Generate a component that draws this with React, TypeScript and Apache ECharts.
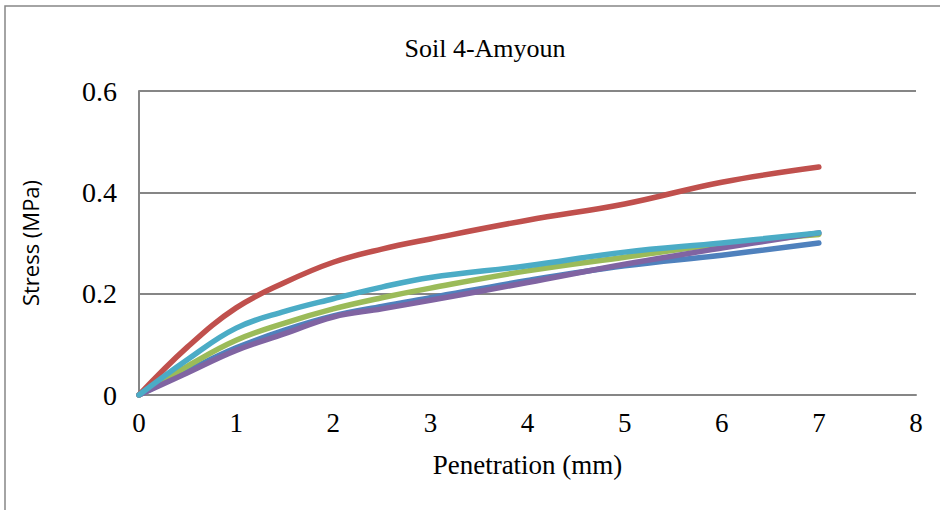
import React, { useEffect, useRef } from "react";
import * as echarts from "echarts";

const penetration = [0, 0.5, 1, 1.5, 2, 2.5, 3, 4, 5, 6, 7];
const seriesNames = ["Sample 1", "Sample 2", "Sample 3", "Sample 4", "Sample 5"];
const blueVals = [0, 0.048, 0.093, 0.128, 0.156, 0.175, 0.192, 0.226, 0.255, 0.276, 0.3];
const redVals = [0, 0.095, 0.172, 0.222, 0.262, 0.288, 0.308, 0.345, 0.377, 0.42, 0.45];
const greenVals = [0, 0.057, 0.108, 0.142, 0.17, 0.192, 0.211, 0.245, 0.272, 0.298, 0.317];
const purpleVals = [0, 0.044, 0.088, 0.121, 0.154, 0.17, 0.187, 0.222, 0.258, 0.29, 0.32];
const cyanVals = [0, 0.07, 0.132, 0.165, 0.19, 0.213, 0.232, 0.255, 0.282, 0.3, 0.32];
const colors = ["#4F81BD", "#C0504D", "#9BBB59", "#8064A2", "#4BACC6"];
const yTicks = [0, 0.2, 0.4, 0.6];
const xTicks = [0, 1, 2, 3, 4, 5, 6, 7, 8];

export default function App() {
  const ref = useRef<HTMLDivElement>(null);
  useEffect(() => {
    if (!ref.current) return;
    const chart = echarts.init(ref.current, undefined, { renderer: "svg" });
    const all = [blueVals, redVals, greenVals, purpleVals, cyanVals];
    const serif = "'Liberation Serif', 'Times New Roman', serif";
    chart.setOption({
      animation: false,
      backgroundColor: "#ffffff",
      title: {
        text: "Soil 4-Amyoun",
        left: 480,
        top: 30,
        textAlign: "center",
        textStyle: { fontFamily: serif, fontSize: 26, fontWeight: "normal", color: "#000" },
      },
      graphic: [
        {
          type: "rect",
          shape: { x: 5, y: 6, width: 1200, height: 1200 },
          style: { fill: "none", stroke: "#868686", lineWidth: 1.5 },
          silent: true,
        },
      ],
      grid: { left: 139, right: 24, top: 91, bottom: 115 },
      xAxis: {
        type: "value",
        min: xTicks[0],
        max: xTicks[xTicks.length - 1],
        interval: 1,
        name: "Penetration (mm)",
        nameLocation: "middle",
        nameGap: 56,
        nameTextStyle: { fontFamily: serif, fontSize: 27, color: "#000" },
        axisLine: { show: true, lineStyle: { color: "#868686", width: 2 } },
        axisTick: { show: false },
        splitLine: { show: false },
        axisLabel: { fontFamily: serif, fontSize: 27, color: "#000", margin: 14 },
      },
      yAxis: {
        type: "value",
        min: yTicks[0],
        max: yTicks[yTicks.length - 1],
        interval: 0.2,
        name: "Stress (MPa)",
        nameLocation: "middle",
        nameGap: 98,
        nameTextStyle: { fontFamily: "'Open Sans', 'Noto Sans', sans-serif", fontSize: 22, color: "#000" },
        axisLine: { show: true, lineStyle: { color: "#868686", width: 2 } },
        axisTick: { show: false },
        splitLine: { show: true, lineStyle: { color: "#868686", width: 2 } },
        axisLabel: { fontFamily: serif, fontSize: 28, color: "#000", margin: 22 },
      },
      series: all.map((vals, i) => ({
        name: seriesNames[i],
        type: "line",
        smooth: 0.4,
        symbol: "none",
        data: penetration.map((x, j) => [x, vals[j]]),
        lineStyle: { color: colors[i], width: 5.5, cap: "round", join: "round" },
        itemStyle: { color: colors[i] },
      })),
    });
    return () => chart.dispose();
  }, []);
  return (
    <div
      ref={ref}
      style={{ position: "fixed", left: 0, top: 0, width: 940, height: 510, background: "#fff" }}
    />
  );
}
